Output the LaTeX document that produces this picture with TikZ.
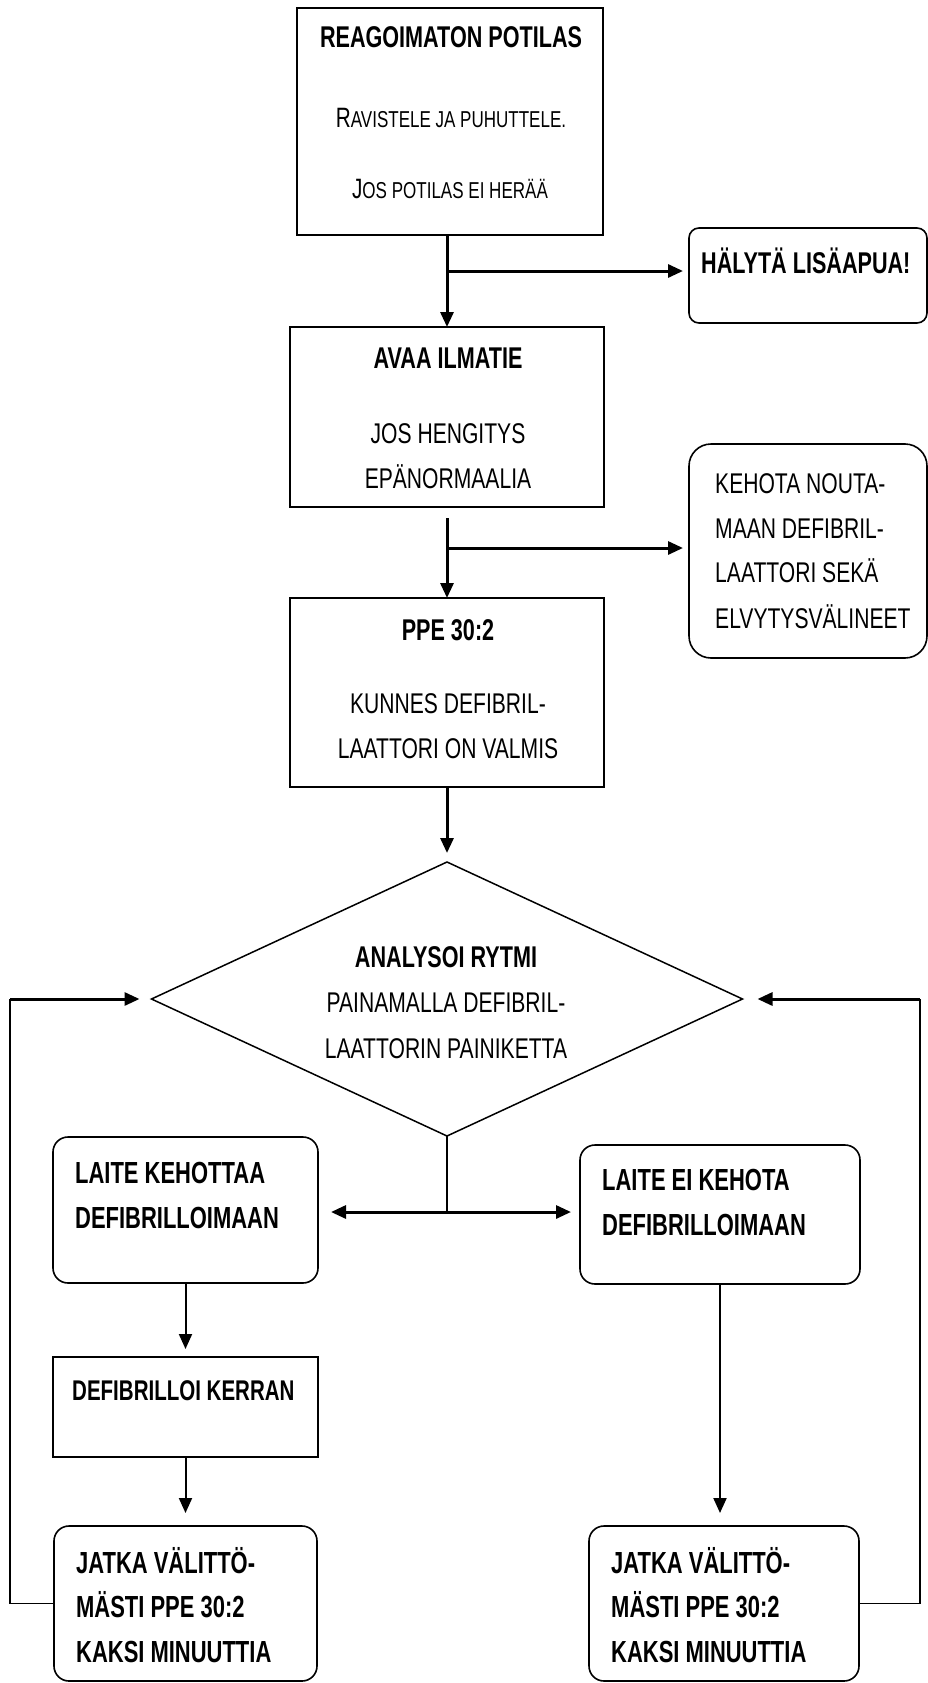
\documentclass[tikz,border=0pt]{standalone}
\usepackage{fontspec}
\setmainfont{Liberation Sans}
\newfontfamily\rfam[FakeStretch=0.74]{Liberation Sans}
\newfontfamily\bfam[FakeStretch=0.72]{Liberation Sans}
\usetikzlibrary{arrows.meta,shapes.geometric,calc}
\tikzset{
  sqbox/.style={draw, line width=1.6pt, inner sep=0pt, outer sep=0pt},
  rbox/.style={sqbox, rounded corners=#1},
  tb/.style={inner sep=0pt, font=\bfam\bfseries\fontsize{30}{36}\selectfont},
  tbl/.style={inner sep=0pt, font=\bfam\bfseries\fontsize{30.5}{36}\selectfont},
  tbs/.style={inner sep=0pt, font=\bfam\bfseries\fontsize{28.5}{34}\selectfont},
  tr/.style={inner sep=0pt, font=\rfam\fontsize{28.5}{34}\selectfont},
  arrthick/.style={-{Triangle[length=15pt,width=13pt]}, line width=3pt},
  arrmid/.style={-{Triangle[length=15pt,width=13pt]}, line width=2pt},
  arrdbl/.style={{Triangle[length=15pt,width=13pt]}-{Triangle[length=15pt,width=13pt]}, line width=3pt},
  thinline/.style={line width=1.5pt},
}
\newcommand{\scaps}[2]{{\fontsize{28}{30}\selectfont #1}{\fontsize{23}{24}\selectfont #2}}
\begin{document}
\begin{tikzpicture}[x=1pt,y=-1pt]
\fill[white] (0,0) rectangle (928,1683);
\useasboundingbox (0,0) rectangle (928,1683);

% boxes
\node[sqbox, minimum width=306pt, minimum height=227pt] (b1) at (450,121.5) {};
\node[sqbox, minimum width=314pt, minimum height=180pt] (b2) at (447,417) {};
\node[sqbox, minimum width=314pt, minimum height=189pt] (b3) at (447,692.5) {};
\node[rbox=10pt, minimum width=238pt, minimum height=95pt] (b4) at (808,275.5) {};
\node[rbox=22pt, minimum width=238pt, minimum height=214pt] (b5) at (808,551) {};
\node[draw, line width=1.5pt, shape=diamond, inner sep=0pt, outer sep=0pt,
      minimum width=591pt, minimum height=274pt] (dia) at (447,999) {};
\node[rbox=15pt, minimum width=265pt, minimum height=146pt] (lk) at (185.5,1210) {};
\node[rbox=15pt, minimum width=280pt, minimum height=139pt] (le) at (720,1214.5) {};
\node[sqbox, minimum width=265pt, minimum height=100pt] (dk) at (185.5,1407) {};
\node[rbox=15pt, minimum width=263pt, minimum height=155pt] (jl) at (185.5,1603.5) {};
\node[rbox=15pt, minimum width=270pt, minimum height=155pt] (jr) at (724,1603.5) {};

% texts
\node[tb, anchor=base] (t1a) at (451,48) {REAGOIMATON POTILAS};
\node[tr, anchor=base] (t1b) at (451,128) {\scaps{R}{AVISTELE JA PUHUTTELE.}};
\node[tr, anchor=base] (t1c) at (450,198) {\scaps{J}{OS POTILAS EI HERÄÄ}};

\node[tb, anchor=base] (t2a) at (448,368) {AVAA ILMATIE};
\node[tr, anchor=base] (t2b) at (448,443) {JOS HENGITYS};
\node[tr, anchor=base] (t2c) at (448,488) {EPÄNORMAALIA};

\node[tb, anchor=base] (t3a) at (448,640) {PPE 30:2};
\node[tr, anchor=base] (t3b) at (448,713) {KUNNES DEFIBRIL-};
\node[tr, anchor=base] (t3c) at (448,758) {LAATTORI ON VALMIS};

\node[tb, anchor=base west] (t4) at (701,273) {HÄLYTÄ LISÄAPUA!};

\node[tr, anchor=base west] (t5a) at (715,493) {KEHOTA NOUTA-};
\node[tr, anchor=base west] (t5b) at (715,538) {MAAN DEFIBRIL-};
\node[tr, anchor=base west] (t5c) at (715,582) {LAATTORI SEKÄ};
\node[tr, anchor=base west] (t5d) at (715,628) {ELVYTYSVÄLINEET};

\node[tb, anchor=base] (tda) at (446,967) {ANALYSOI RYTMI};
\node[tr, anchor=base] (tdb) at (446,1012) {PAINAMALLA DEFIBRIL-};
\node[tr, anchor=base] (tdc) at (446,1058) {LAATTORIN PAINIKETTA};

\node[tbl, anchor=base west] (tlka) at (75,1183) {LAITE KEHOTTAA};
\node[tbl, anchor=base west] (tlkb) at (75,1228) {DEFIBRILLOIMAAN};
\node[tbl, anchor=base west] (tlea) at (602,1190) {LAITE EI KEHOTA};
\node[tbl, anchor=base west] (tleb) at (602,1235) {DEFIBRILLOIMAAN};
\node[tbs, anchor=base west] (tdk) at (72,1400) {DEFIBRILLOI KERRAN};

\node[tbl, anchor=base west] (tjla) at (76,1573) {JATKA VÄLITTÖ-};
\node[tbl, anchor=base west] (tjlb) at (76,1617) {MÄSTI PPE 30:2};
\node[tbl, anchor=base west] (tjlc) at (76,1662) {KAKSI MINUUTTIA};
\node[tbl, anchor=base west] (tjra) at (611,1573) {JATKA VÄLITTÖ-};
\node[tbl, anchor=base west] (tjrb) at (611,1617) {MÄSTI PPE 30:2};
\node[tbl, anchor=base west] (tjrc) at (611,1662) {KAKSI MINUUTTIA};

% connectors
\coordinate (j1) at (447,271);
\coordinate (j2) at (447,548);
\coordinate (j3) at (447,1212);
\coordinate (ll) at (10,1603.5);
\coordinate (rr) at (920,1603.5);

\draw[arrthick] (b2.north |- b1.south) -- (b2.north);
\draw[arrthick, shorten >=6pt] (j1) -- (j1 -| b4.west);
\draw[arrthick, shorten <=11pt] (b2.south) -- (b3.north);
\draw[arrthick, shorten >=6pt] (j2) -- (j2 -| b5.west);
\draw[arrthick, shorten >=9pt] (b3.south) -- (dia.north);

\draw[thinline] (dia.south) -- (j3);
\draw[arrdbl, shorten <=13pt, shorten >=9pt] (j3 -| lk.east) -- (j3 -| le.west);

\draw[arrmid, shorten >=8pt] (lk.south) -- (dk.north);
\draw[arrmid, shorten >=13pt] (dk.south) -- (jl.north);
\draw[arrmid, shorten >=13pt] (le.south) -- (le.south |- jr.north);

\draw[thinline] (jl.west) -- (ll) -- (ll |- dia.west);
\draw[arrthick, shorten >=12pt] (ll |- dia.west) -- (dia.west);
\draw[thinline] (jr.east) -- (rr) -- (rr |- dia.east);
\draw[arrthick, shorten >=15pt] (rr |- dia.east) -- (dia.east);
\end{tikzpicture}
\end{document}
